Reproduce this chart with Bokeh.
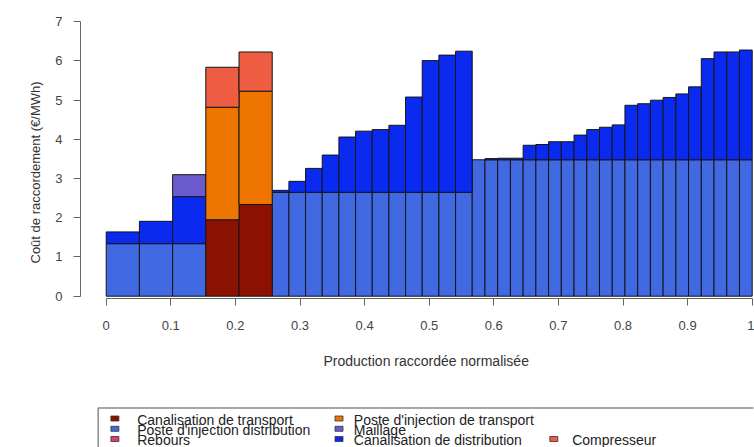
import numpy as np
from bokeh.plotting import figure
from bokeh.models import Range1d, FixedTicker, ColumnDataSource, Title
from bokeh.layouts import column
from bokeh.embed import file_html
from bokeh.resources import INLINE
from bokeh.core.properties import value

# ---------------- data ----------------
# width of each bar along the normalised production axis
bar_widths = [0.0514, 0.0514, 0.0514, 0.0514, 0.0514,
              0.0258, 0.0258, 0.0258, 0.0258, 0.0258, 0.0258,
              0.0258, 0.0258, 0.0258, 0.0258, 0.0258, 0.0258,
              0.0197, 0.0197, 0.0197, 0.0197, 0.0197, 0.0197,
              0.0197, 0.0197, 0.0197, 0.0197, 0.0197, 0.0197,
              0.0197, 0.0197, 0.0197, 0.0197, 0.0197, 0.0197,
              0.0197, 0.0197, 0.0197, 0.0197]

# cost components (EUR/MWh), stacked bottom -> top in this order
poste_injection_distribution = [1.34, 1.34, 1.34, 0.0, 0.0,
                                2.65, 2.65, 2.65, 2.65, 2.65, 2.65,
                                2.65, 2.65, 2.65, 2.65, 2.65, 2.65,
                                3.48, 3.48, 3.48, 3.48, 3.48, 3.48,
                                3.48, 3.48, 3.48, 3.48, 3.48, 3.48,
                                3.48, 3.48, 3.48, 3.48, 3.48, 3.48,
                                3.48, 3.48, 3.48, 3.48]
canalisation_distribution = [0.30, 0.57, 1.20, 0.0, 0.0,
                             0.05, 0.28, 0.61, 0.95, 1.41, 1.56,
                             1.60, 1.71, 2.43, 3.36, 3.50, 3.60,
                             0.0, 0.03, 0.04, 0.04, 0.37, 0.39,
                             0.46, 0.46, 0.63, 0.77, 0.83, 0.89,
                             1.39, 1.43, 1.52, 1.59, 1.68, 1.86,
                             2.58, 2.75, 2.75, 2.80]
maillage = [0.0, 0.0, 0.56, 0.0, 0.0,
            0.0, 0.0, 0.0, 0.0, 0.0, 0.0, 0.0, 0.0, 0.0, 0.0, 0.0, 0.0,
            0.0, 0.0, 0.0, 0.0, 0.0, 0.0, 0.0, 0.0, 0.0, 0.0, 0.0, 0.0,
            0.0, 0.0, 0.0, 0.0, 0.0, 0.0, 0.0, 0.0, 0.0, 0.0]
canalisation_transport = [0.0, 0.0, 0.0, 1.95, 2.34,
                          0.0, 0.0, 0.0, 0.0, 0.0, 0.0, 0.0, 0.0, 0.0, 0.0, 0.0, 0.0,
                          0.0, 0.0, 0.0, 0.0, 0.0, 0.0, 0.0, 0.0, 0.0, 0.0, 0.0, 0.0,
                          0.0, 0.0, 0.0, 0.0, 0.0, 0.0, 0.0, 0.0, 0.0, 0.0]
poste_injection_transport = [0.0, 0.0, 0.0, 2.87, 2.89,
                             0.0, 0.0, 0.0, 0.0, 0.0, 0.0, 0.0, 0.0, 0.0, 0.0, 0.0, 0.0,
                             0.0, 0.0, 0.0, 0.0, 0.0, 0.0, 0.0, 0.0, 0.0, 0.0, 0.0, 0.0,
                             0.0, 0.0, 0.0, 0.0, 0.0, 0.0, 0.0, 0.0, 0.0, 0.0]
compresseur = [0.0, 0.0, 0.0, 1.02, 1.00,
               0.0, 0.0, 0.0, 0.0, 0.0, 0.0, 0.0, 0.0, 0.0, 0.0, 0.0, 0.0,
               0.0, 0.0, 0.0, 0.0, 0.0, 0.0, 0.0, 0.0, 0.0, 0.0, 0.0, 0.0,
               0.0, 0.0, 0.0, 0.0, 0.0, 0.0, 0.0, 0.0, 0.0, 0.0]
rebours = [0.0, 0.0, 0.0, 0.0, 0.0,
           0.0, 0.0, 0.0, 0.0, 0.0, 0.0, 0.0, 0.0, 0.0, 0.0, 0.0, 0.0,
           0.0, 0.0, 0.0, 0.0, 0.0, 0.0, 0.0, 0.0, 0.0, 0.0, 0.0, 0.0,
           0.0, 0.0, 0.0, 0.0, 0.0, 0.0, 0.0, 0.0, 0.0, 0.0]

stack_names = ["Poste d'injection distribution", "Canalisation de distribution",
               "Maillage", "Canalisation de transport",
               "Poste d'injection de transport", "Compresseur", "Rebours"]
stack_values = [poste_injection_distribution, canalisation_distribution,
                maillage, canalisation_transport, poste_injection_transport,
                compresseur, rebours]
stack_colors = ["#4169e1", "#0a2af0", "#6a5acd", "#8b1200",
                "#ee7600", "#ee5c42", "#e23c6c"]

x_ticks = [0, 0.1, 0.2, 0.3, 0.4, 0.5, 0.6, 0.7, 0.8, 0.9, 1]
x_tick_labels = ["0", "0.1", "0.2", "0.3", "0.4", "0.5", "0.6", "0.7", "0.8", "0.9", "1"]
y_ticks = [0, 1, 2, 3, 4, 5, 6, 7]

x_title = "Production raccordée normalisée"
y_title = "Coût de raccordement (€/MWh)"

# legend entries in display order (column by column)
legend_labels = ["Canalisation de transport", "Poste d'injection distribution", "Rebours",
                 "Poste d'injection de transport", "Maillage", "Canalisation de distribution",
                 "Compresseur"]
legend_colors = ["#8b1200", "#4169e1", "#e23c6c",
                 "#ee7600", "#6a5acd", "#0a2af0",
                 "#ee5c42"]
legend_rows = [0, 1, 2, 0, 1, 2, 2]
legend_cols = [0, 0, 0, 1, 1, 1, 2]

FONT = "Liberation Sans"

# ---------------- main chart ----------------
p = figure(width=754, height=398, output_backend="svg", toolbar_location=None,
           x_range=Range1d(-0.0398, 1.0020), y_range=Range1d(-0.0587, 7.033),
           min_border_left=80, min_border_right=1, min_border_top=20,
           min_border_bottom=100)
p.outline_line_color = None
p.xgrid.visible = False
p.ygrid.visible = False
p.background_fill_color = "white"
p.border_fill_color = "white"

w = np.array(bar_widths)
rights = np.cumsum(w)
lefts = rights - w
base = np.zeros(len(w))
for vals, col, name in zip(stack_values, stack_colors, stack_names):
    v = np.array(vals)
    m = v > 0
    src = ColumnDataSource(dict(left=lefts[m], right=rights[m],
                                bottom=base[m], top=(base + v)[m]))
    p.quad(left="left", right="right", bottom="bottom", top="top", source=src,
           fill_color=col, line_color="#151515", line_width=1)
    base = base + v

for ax in (p.xaxis[0], p.yaxis[0]):
    ax.axis_line_color = "#666666"
    ax.major_tick_line_color = "#666666"
    ax.major_tick_out = 7
    ax.major_tick_in = 0
    ax.minor_tick_line_color = None
    ax.major_label_text_font = FONT
    ax.major_label_text_font_size = "13px"
    ax.major_label_text_color = "#444444"

p.xaxis[0].ticker = FixedTicker(ticks=x_ticks)
p.xaxis[0].major_label_overrides = dict(zip(x_ticks, x_tick_labels))
p.xaxis[0].bounds = (0, 1)
p.xaxis[0].major_label_standoff = 15
p.yaxis[0].ticker = FixedTicker(ticks=y_ticks)
p.yaxis[0].bounds = (0, 7)
p.yaxis[0].major_label_standoff = 11

p.add_layout(Title(text=y_title, align="left", offset=35, standoff=20,
                   text_font=FONT, text_font_size="13px", text_font_style="normal",
                   text_color="#333333"), "left")
p.add_layout(Title(text=x_title, align="left", offset=243, standoff=37,
                   text_font=FONT, text_font_size="14px", text_font_style="normal",
                   text_color="#333333"), "below")

# ---------------- legend (drawn as its own small figure, pixel units) ----------------
leg = figure(width=754, height=49, output_backend="svg", toolbar_location=None,
             x_range=Range1d(80, 753), y_range=Range1d(49, 0),
             x_axis_location=None, y_axis_location=None,
             min_border_left=80, min_border_right=1, min_border_top=0,
             min_border_bottom=0)
leg.outline_line_color = None
leg.xgrid.visible = False
leg.ygrid.visible = False

box_left, box_top = 97.7, 9.5
leg.quad(left=box_left, right=800, top=box_top, bottom=80, fill_color=None,
         line_color="#8a8a8a", line_width=1.5)

col_sym_x = [114.4, 338.5, 553.3]
col_txt_x = [136.7, 353.3, 571.7]
row_y = [21.0, 31.3, 41.5]
sym_x = [col_sym_x[c] for c in legend_cols]
txt_x = [col_txt_x[c] for c in legend_cols]
ys = [row_y[r] for r in legend_rows]
leg.rect(x=sym_x, y=[y - 1 for y in ys], width=8, height=5, fill_color=legend_colors,
         line_color="#333333", line_width=0.8)
leg.text(x=txt_x, y=ys, text=legend_labels,
         text_font=value(FONT), text_font_size=value("14px"),
         text_baseline="middle", text_align="left", text_color="#222222")

layout = column(p, leg, spacing=0)
open("out.html", "w").write(file_html(layout, INLINE))
